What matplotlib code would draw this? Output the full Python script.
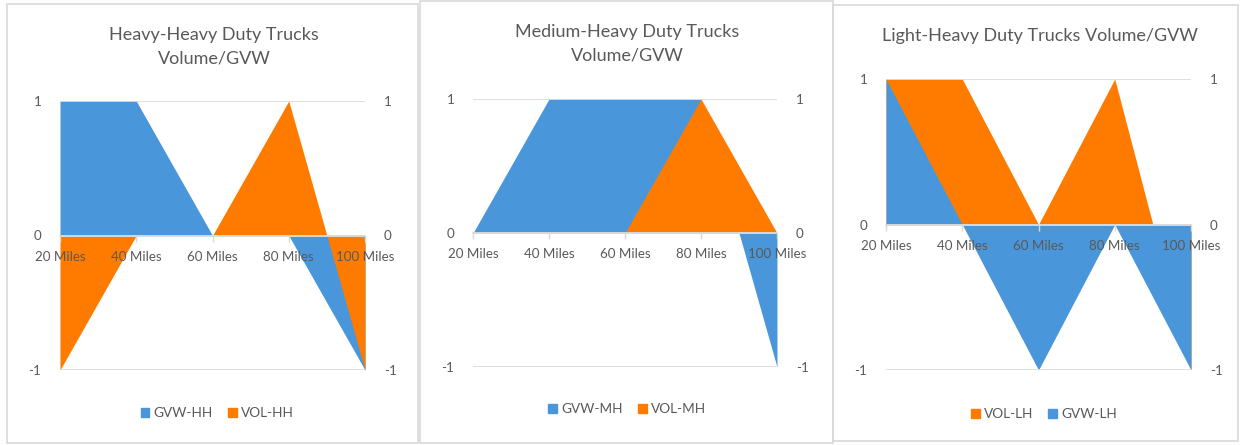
import matplotlib
matplotlib.use("Agg")
import matplotlib.pyplot as plt
from matplotlib.patches import Patch, Rectangle

plt.rcParams['font.family'] = ['Lato', 'DejaVu Sans']

# chart data
miles = ['20 Miles', '40 Miles', '60 Miles', '80 Miles', '100 Miles']
y_ticks = [-1, 0, 1]

gvw_hh = [1, 1, 0, 0, -1]
vol_hh = [-1, 0, 0, 1, -1]

gvw_mh = [0, 1, 1, 1, -1]
vol_mh = [0, 0, 0, 1, 0]

vol_lh = [1, 1, 0, 1, -1]
gvw_lh = [1, 0, -1, 0, -1]

BLUE = '#4A96DA'
ORANGE = '#FF7B00'
GREY = '#595959'
GRID = '#D9D9D9'

W, H = 1241, 445
fig = plt.figure(figsize=(W / 100, H / 100), dpi=100)


def px_axes(x0, x1, ytop, ybot):
    return fig.add_axes([x0 / W, (H - ybot) / H, (x1 - x0) / W, (ybot - ytop) / H])


def draw_panel(box, plot, title, title_xy, series, legend_xy):
    # panel border
    bx0, by0, bx1, by1 = box
    fig.patches.append(Rectangle((bx0 / W, (H - by1) / H), (bx1 - bx0) / W, (by1 - by0) / H,
                                 transform=fig.transFigure, fill=False,
                                 edgecolor=GRID, lw=1.2))
    fig.text(title_xy[0] / W, 1 - title_xy[1] / H, title, ha='center', va='top',
             fontsize=13, color=GREY, linespacing=1.55)

    ax = px_axes(*plot)
    x = list(range(len(miles)))
    for name, vals, col in series:
        ax.fill_between(x, vals, 0, color=col, lw=0, zorder=1)
    ax.set_xlim(0, len(miles) - 1)
    ax.set_ylim(-1, 1)
    for s in ['top', 'left', 'right']:
        ax.spines[s].set_visible(False)
    ax.spines['bottom'].set_position(('data', 0))
    ax.spines['bottom'].set_color(GRID)
    ax.spines['bottom'].set_linewidth(1.2)
    ax.set_xticks(x)
    ax.set_xticklabels(miles)
    ax.tick_params(axis='x', colors=GRID, length=4, width=1, labelcolor=GREY,
                   labelsize=9.6, pad=7)
    ax.set_yticks(y_ticks)
    ax.set_yticklabels([str(v) for v in y_ticks])
    ax.tick_params(axis='y', left=False, right=False, labelright=True,
                   labelcolor=GREY, labelsize=9.6, pad=10)
    ax.yaxis.grid(True, color=GRID, lw=1.2, zorder=0)
    ax.patch.set_alpha(0)

    handles = [Patch(color=col, label=name) for name, vals, col in series]
    leg = fig.legend(handles=handles, loc='center',
                     bbox_to_anchor=(legend_xy[0] / W, 1 - legend_xy[1] / H),
                     ncol=len(handles), frameon=False, fontsize=9.8,
                     handlelength=0.65, handleheight=0.65, handletextpad=0.3,
                     columnspacing=1.1)
    for t in leg.get_texts():
        t.set_color(GREY)
    return ax


draw_panel((7, 4, 418, 443), (60, 365, 101, 370),
           'Heavy-Heavy Duty Trucks\nVolume/GVW', (214, 27),
           [('GVW-HH', gvw_hh, BLUE), ('VOL-HH', vol_hh, ORANGE)], (217, 413))

draw_panel((420, 1, 833, 443), (473, 777, 99, 367),
           'Medium-Heavy Duty Trucks\nVolume/GVW', (627, 24),
           [('GVW-MH', gvw_mh, BLUE), ('VOL-MH', vol_mh, ORANGE)], (627, 409))

draw_panel((833, 5, 1238, 441), (886, 1191, 79, 370),
           'Light-Heavy Duty Trucks Volume/GVW', (1040, 28),
           [('VOL-LH', vol_lh, ORANGE), ('GVW-LH', gvw_lh, BLUE)], (1044, 414))

fig.savefig('out.png', dpi=100)
